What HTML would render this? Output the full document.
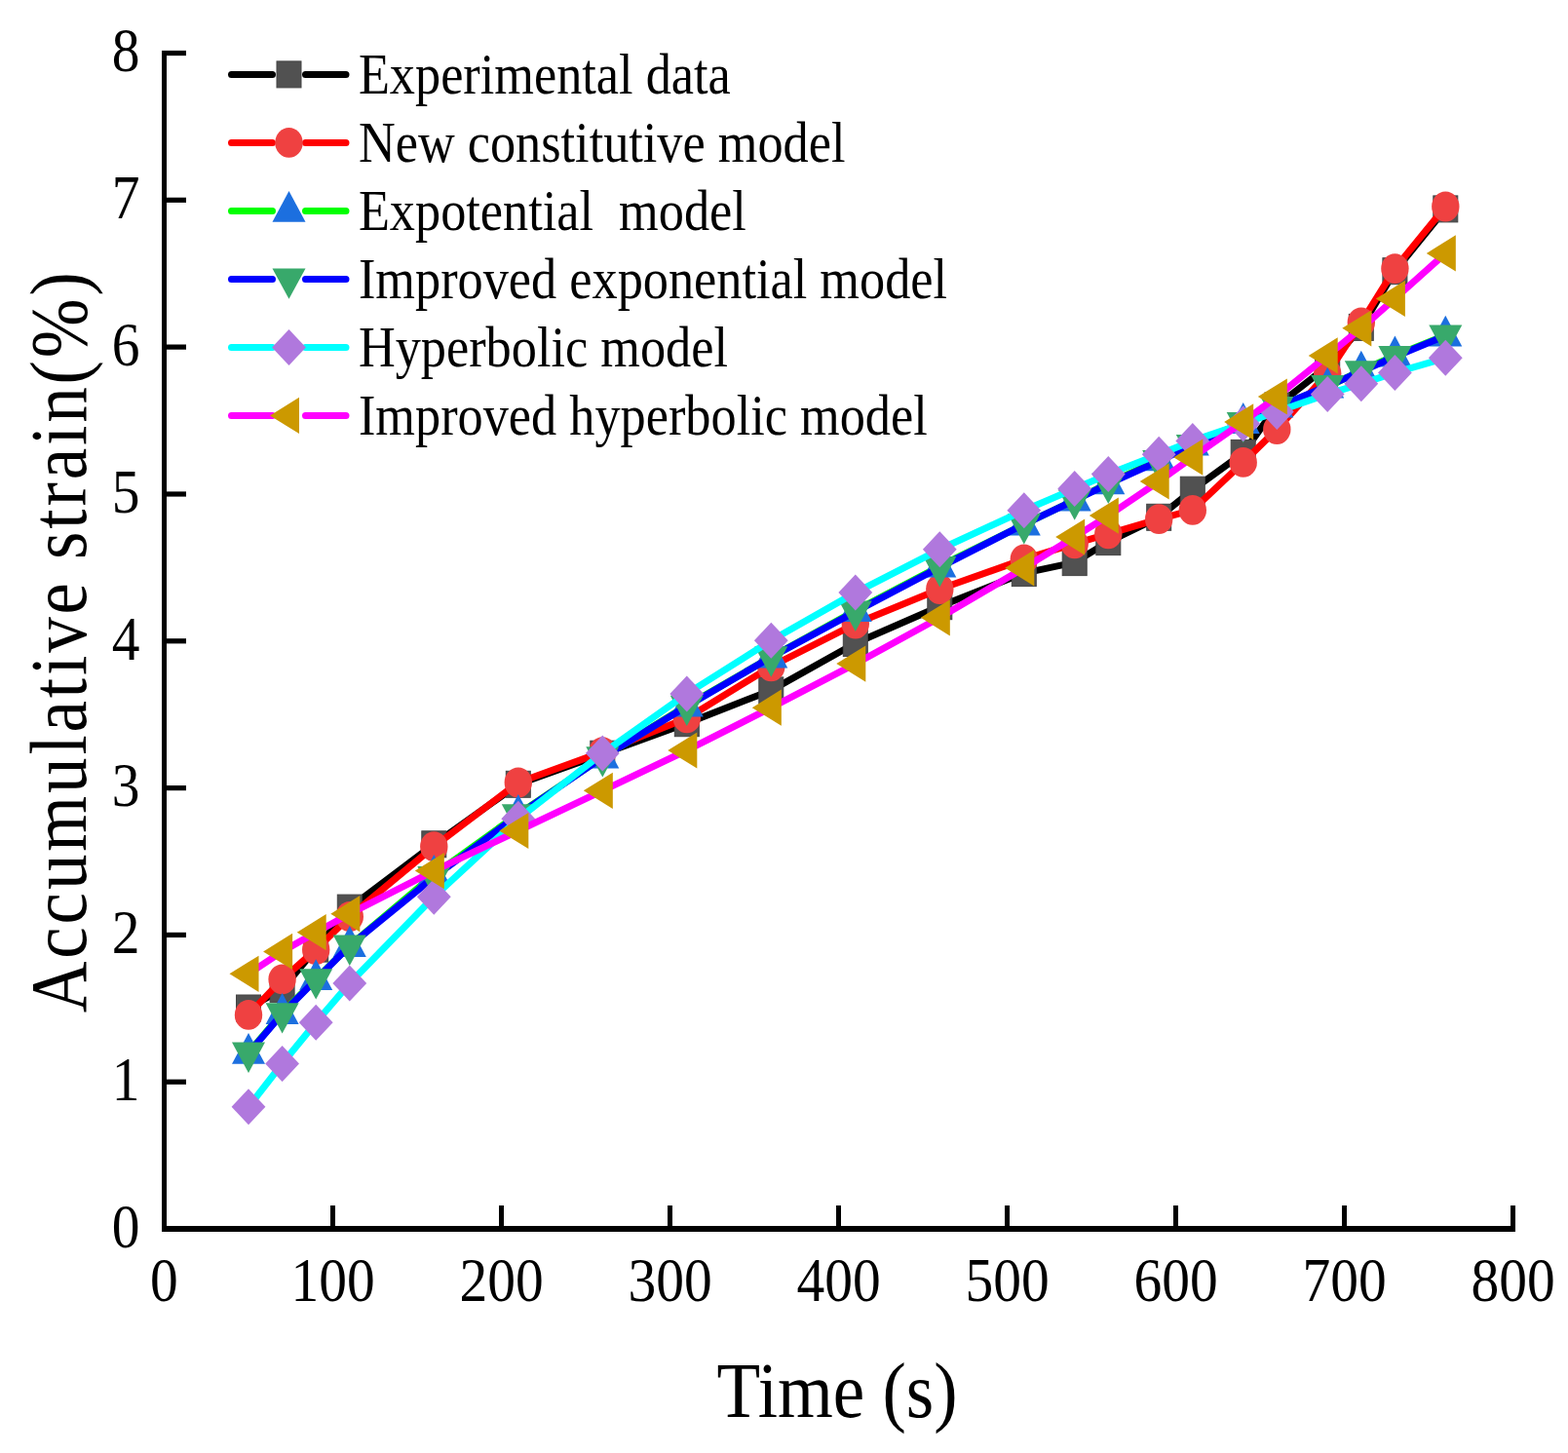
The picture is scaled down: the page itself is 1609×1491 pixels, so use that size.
<!DOCTYPE html>
<html><head><meta charset="utf-8"><title>Accumulative strain vs Time</title>
<style>
html,body{margin:0;padding:0;background:#fff;}
svg{display:block;}
text{font-family:"Liberation Serif","Times New Roman",serif;fill:#000;}
</style></head><body>
<svg width="1609" height="1491" viewBox="0 0 1609 1491">
<rect width="1609" height="1491" fill="#fff"/>

<g fill="#000">
<rect x="166" y="52" width="5" height="1212"/>
<rect x="166" y="1258" width="1389" height="6"/>
<rect x="166" y="1258.4" width="25" height="5.2"/>
<rect x="166" y="1107.6" width="25" height="5.2"/>
<rect x="166" y="956.8" width="25" height="5.2"/>
<rect x="166" y="806.0" width="25" height="5.2"/>
<rect x="166" y="655.2" width="25" height="5.2"/>
<rect x="166" y="504.4" width="25" height="5.2"/>
<rect x="166" y="353.5" width="25" height="5.2"/>
<rect x="166" y="202.7" width="25" height="5.2"/>
<rect x="166" y="51.9" width="25" height="5.2"/>
<rect x="166.0" y="1237" width="5" height="24"/>
<rect x="339.0" y="1237" width="5" height="24"/>
<rect x="512.0" y="1237" width="5" height="24"/>
<rect x="685.0" y="1237" width="5" height="24"/>
<rect x="858.0" y="1237" width="5" height="24"/>
<rect x="1031.0" y="1237" width="5" height="24"/>
<rect x="1204.0" y="1237" width="5" height="24"/>
<rect x="1377.0" y="1237" width="5" height="24"/>
<rect x="1550.0" y="1237" width="5" height="24"/>
</g>
<text transform="translate(143.5,1279.8) scale(1,1.108)" font-size="57.5" text-anchor="end">0</text>
<text transform="translate(143.5,1129.0) scale(1,1.108)" font-size="57.5" text-anchor="end">1</text>
<text transform="translate(143.5,978.2) scale(1,1.108)" font-size="57.5" text-anchor="end">2</text>
<text transform="translate(143.5,827.4) scale(1,1.108)" font-size="57.5" text-anchor="end">3</text>
<text transform="translate(143.5,676.6) scale(1,1.108)" font-size="57.5" text-anchor="end">4</text>
<text transform="translate(143.5,525.8) scale(1,1.108)" font-size="57.5" text-anchor="end">5</text>
<text transform="translate(143.5,374.9) scale(1,1.108)" font-size="57.5" text-anchor="end">6</text>
<text transform="translate(143.5,224.1) scale(1,1.108)" font-size="57.5" text-anchor="end">7</text>
<text transform="translate(143.5,73.3) scale(1,1.108)" font-size="57.5" text-anchor="end">8</text>
<text transform="translate(168.5,1335.3) scale(1,1.108)" font-size="57.5" text-anchor="middle">0</text>
<text transform="translate(341.5,1335.3) scale(1,1.108)" font-size="57.5" text-anchor="middle">100</text>
<text transform="translate(514.5,1335.3) scale(1,1.108)" font-size="57.5" text-anchor="middle">200</text>
<text transform="translate(687.5,1335.3) scale(1,1.108)" font-size="57.5" text-anchor="middle">300</text>
<text transform="translate(860.5,1335.3) scale(1,1.108)" font-size="57.5" text-anchor="middle">400</text>
<text transform="translate(1033.5,1335.3) scale(1,1.108)" font-size="57.5" text-anchor="middle">500</text>
<text transform="translate(1206.5,1335.3) scale(1,1.108)" font-size="57.5" text-anchor="middle">600</text>
<text transform="translate(1379.5,1335.3) scale(1,1.108)" font-size="57.5" text-anchor="middle">700</text>
<text transform="translate(1552.5,1335.3) scale(1,1.108)" font-size="57.5" text-anchor="middle">800</text>
<text transform="translate(735.6,1454) scale(1,1.108)" font-size="73.06">Time (s)</text>
<text transform="translate(88,1039.3) rotate(-90) scale(1,1.127)" font-size="73" letter-spacing="2.9">Accumulative strain(%)</text>
<path d="M255.0,1034.5 L289.6,1014.9 L324.2,973.6 L358.8,931.6 L445.3,866.3 L531.8,804.8 L618.3,773.7 L704.8,742.2 L791.3,708.4 L877.8,660.0 L964.3,622.2 L1050.8,588.1 L1102.7,577.1 L1137.3,556.1 L1189.2,530.8 L1223.8,502.7 L1275.7,464.9 L1310.3,416.5 L1362.2,375.7 L1396.8,335.9 L1431.4,278.2 L1483.3,214.4" fill="none" stroke="#000000" stroke-width="7" stroke-linejoin="round" stroke-linecap="round"/>
<g><rect x="242.5" y="1021.0" width="25" height="27" fill="#515151" stroke="#454545" stroke-width="1"/><rect x="277.1" y="1001.4" width="25" height="27" fill="#515151" stroke="#454545" stroke-width="1"/><rect x="311.7" y="960.1" width="25" height="27" fill="#515151" stroke="#454545" stroke-width="1"/><rect x="346.3" y="918.1" width="25" height="27" fill="#515151" stroke="#454545" stroke-width="1"/><rect x="432.8" y="852.8" width="25" height="27" fill="#515151" stroke="#454545" stroke-width="1"/><rect x="519.3" y="791.3" width="25" height="27" fill="#515151" stroke="#454545" stroke-width="1"/><rect x="605.8" y="760.2" width="25" height="27" fill="#515151" stroke="#454545" stroke-width="1"/><rect x="692.3" y="728.7" width="25" height="27" fill="#515151" stroke="#454545" stroke-width="1"/><rect x="778.8" y="694.9" width="25" height="27" fill="#515151" stroke="#454545" stroke-width="1"/><rect x="865.3" y="646.5" width="25" height="27" fill="#515151" stroke="#454545" stroke-width="1"/><rect x="951.8" y="608.7" width="25" height="27" fill="#515151" stroke="#454545" stroke-width="1"/><rect x="1038.3" y="574.6" width="25" height="27" fill="#515151" stroke="#454545" stroke-width="1"/><rect x="1090.2" y="563.6" width="25" height="27" fill="#515151" stroke="#454545" stroke-width="1"/><rect x="1124.8" y="542.6" width="25" height="27" fill="#515151" stroke="#454545" stroke-width="1"/><rect x="1176.7" y="517.3" width="25" height="27" fill="#515151" stroke="#454545" stroke-width="1"/><rect x="1211.3" y="489.2" width="25" height="27" fill="#515151" stroke="#454545" stroke-width="1"/><rect x="1263.2" y="451.4" width="25" height="27" fill="#515151" stroke="#454545" stroke-width="1"/><rect x="1297.8" y="403.0" width="25" height="27" fill="#515151" stroke="#454545" stroke-width="1"/><rect x="1349.7" y="362.2" width="25" height="27" fill="#515151" stroke="#454545" stroke-width="1"/><rect x="1384.3" y="322.4" width="25" height="27" fill="#515151" stroke="#454545" stroke-width="1"/><rect x="1418.9" y="264.7" width="25" height="27" fill="#515151" stroke="#454545" stroke-width="1"/><rect x="1470.8" y="200.9" width="25" height="27" fill="#515151" stroke="#454545" stroke-width="1"/></g>
<path d="M255.0,1041.4 L289.6,1004.9 L324.2,974.5 L358.8,940.5 L445.3,868.7 L531.8,803.0 L618.3,771.6 L704.8,736.9 L791.3,683.9 L877.8,640.1 L964.3,604.5 L1050.8,573.9 L1102.7,557.9 L1137.3,547.8 L1189.2,532.7 L1223.8,523.4 L1275.7,474.4 L1310.3,440.6 L1362.2,383.3 L1396.8,331.0 L1431.4,275.6 L1483.3,212.0" fill="none" stroke="#ff0000" stroke-width="7" stroke-linejoin="round" stroke-linecap="round"/>
<g><ellipse cx="255.0" cy="1041.4" rx="14.2" ry="15.4" fill="#ef4141"/><ellipse cx="289.6" cy="1004.9" rx="14.2" ry="15.4" fill="#ef4141"/><ellipse cx="324.2" cy="974.5" rx="14.2" ry="15.4" fill="#ef4141"/><ellipse cx="358.8" cy="940.5" rx="14.2" ry="15.4" fill="#ef4141"/><ellipse cx="445.3" cy="868.7" rx="14.2" ry="15.4" fill="#ef4141"/><ellipse cx="531.8" cy="803.0" rx="14.2" ry="15.4" fill="#ef4141"/><ellipse cx="618.3" cy="771.6" rx="14.2" ry="15.4" fill="#ef4141"/><ellipse cx="704.8" cy="736.9" rx="14.2" ry="15.4" fill="#ef4141"/><ellipse cx="791.3" cy="683.9" rx="14.2" ry="15.4" fill="#ef4141"/><ellipse cx="877.8" cy="640.1" rx="14.2" ry="15.4" fill="#ef4141"/><ellipse cx="964.3" cy="604.5" rx="14.2" ry="15.4" fill="#ef4141"/><ellipse cx="1050.8" cy="573.9" rx="14.2" ry="15.4" fill="#ef4141"/><ellipse cx="1102.7" cy="557.9" rx="14.2" ry="15.4" fill="#ef4141"/><ellipse cx="1137.3" cy="547.8" rx="14.2" ry="15.4" fill="#ef4141"/><ellipse cx="1189.2" cy="532.7" rx="14.2" ry="15.4" fill="#ef4141"/><ellipse cx="1223.8" cy="523.4" rx="14.2" ry="15.4" fill="#ef4141"/><ellipse cx="1275.7" cy="474.4" rx="14.2" ry="15.4" fill="#ef4141"/><ellipse cx="1310.3" cy="440.6" rx="14.2" ry="15.4" fill="#ef4141"/><ellipse cx="1362.2" cy="383.3" rx="14.2" ry="15.4" fill="#ef4141"/><ellipse cx="1396.8" cy="331.0" rx="14.2" ry="15.4" fill="#ef4141"/><ellipse cx="1431.4" cy="275.6" rx="14.2" ry="15.4" fill="#ef4141"/><ellipse cx="1483.3" cy="212.0" rx="14.2" ry="15.4" fill="#ef4141"/></g>
<path d="M255.0,1080.3 L289.6,1039.5 L324.2,1004.6 L358.8,970.5 L445.3,897.5 L531.8,835.3 L618.3,777.2 L704.8,724.1 L791.3,674.2 L877.8,626.5 L964.3,581.0 L1050.8,538.2 L1102.7,513.1 L1137.3,495.9 L1189.2,471.8 L1223.8,456.1 L1275.7,433.5 L1310.3,417.2 L1362.2,397.2 L1396.8,380.1 L1431.4,365.0 L1483.3,344.1" fill="none" stroke="#00ff00" stroke-width="7" stroke-linejoin="round" stroke-linecap="round"/>
<g><polygon points="255.0,1059.9 272.0,1091.7 238.0,1091.7" fill="#1c6fdf"/><polygon points="289.6,1019.1 306.6,1050.9 272.6,1050.9" fill="#1c6fdf"/><polygon points="324.2,984.2 341.2,1016.0 307.2,1016.0" fill="#1c6fdf"/><polygon points="358.8,950.1 375.8,981.9 341.8,981.9" fill="#1c6fdf"/><polygon points="445.3,877.1 462.3,908.9 428.3,908.9" fill="#1c6fdf"/><polygon points="531.8,814.9 548.8,846.7 514.8,846.7" fill="#1c6fdf"/><polygon points="618.3,756.8 635.3,788.6 601.3,788.6" fill="#1c6fdf"/><polygon points="704.8,703.7 721.8,735.5 687.8,735.5" fill="#1c6fdf"/><polygon points="791.3,653.8 808.3,685.6 774.3,685.6" fill="#1c6fdf"/><polygon points="877.8,606.1 894.8,637.9 860.8,637.9" fill="#1c6fdf"/><polygon points="964.3,560.6 981.3,592.4 947.3,592.4" fill="#1c6fdf"/><polygon points="1050.8,517.8 1067.8,549.6 1033.8,549.6" fill="#1c6fdf"/><polygon points="1102.7,492.7 1119.7,524.5 1085.7,524.5" fill="#1c6fdf"/><polygon points="1137.3,475.5 1154.3,507.3 1120.3,507.3" fill="#1c6fdf"/><polygon points="1189.2,451.4 1206.2,483.2 1172.2,483.2" fill="#1c6fdf"/><polygon points="1223.8,435.7 1240.8,467.5 1206.8,467.5" fill="#1c6fdf"/><polygon points="1275.7,413.1 1292.7,444.9 1258.7,444.9" fill="#1c6fdf"/><polygon points="1310.3,396.8 1327.3,428.6 1293.3,428.6" fill="#1c6fdf"/><polygon points="1362.2,376.8 1379.2,408.6 1345.2,408.6" fill="#1c6fdf"/><polygon points="1396.8,359.7 1413.8,391.5 1379.8,391.5" fill="#1c6fdf"/><polygon points="1431.4,344.6 1448.4,376.4 1414.4,376.4" fill="#1c6fdf"/><polygon points="1483.3,323.7 1500.3,355.5 1466.3,355.5" fill="#1c6fdf"/></g>
<path d="M255.0,1080.6 L289.6,1040.2 L324.2,1005.2 L358.8,970.5 L445.3,900.0 L531.8,836.2 L618.3,777.2 L704.8,724.7 L791.3,674.3 L877.8,627.6 L964.3,582.1 L1050.8,538.0 L1102.7,513.3 L1137.3,496.7 L1189.2,473.0 L1223.8,456.9 L1275.7,434.1 L1310.3,418.0 L1362.2,396.0 L1396.8,381.2 L1431.4,365.9 L1483.3,344.4" fill="none" stroke="#0000ff" stroke-width="7" stroke-linejoin="round" stroke-linecap="round"/>
<g><polygon points="255.0,1101.0 272.0,1069.6 238.0,1069.6" fill="#38a96b"/><polygon points="289.6,1060.6 306.6,1029.2 272.6,1029.2" fill="#38a96b"/><polygon points="324.2,1025.6 341.2,994.2 307.2,994.2" fill="#38a96b"/><polygon points="358.8,990.9 375.8,959.5 341.8,959.5" fill="#38a96b"/><polygon points="445.3,920.4 462.3,889.0 428.3,889.0" fill="#38a96b"/><polygon points="531.8,856.6 548.8,825.2 514.8,825.2" fill="#38a96b"/><polygon points="618.3,797.6 635.3,766.2 601.3,766.2" fill="#38a96b"/><polygon points="704.8,745.1 721.8,713.7 687.8,713.7" fill="#38a96b"/><polygon points="791.3,694.7 808.3,663.3 774.3,663.3" fill="#38a96b"/><polygon points="877.8,648.0 894.8,616.6 860.8,616.6" fill="#38a96b"/><polygon points="964.3,602.5 981.3,571.1 947.3,571.1" fill="#38a96b"/><polygon points="1050.8,558.4 1067.8,527.0 1033.8,527.0" fill="#38a96b"/><polygon points="1102.7,533.7 1119.7,502.3 1085.7,502.3" fill="#38a96b"/><polygon points="1137.3,517.1 1154.3,485.7 1120.3,485.7" fill="#38a96b"/><polygon points="1189.2,493.4 1206.2,462.0 1172.2,462.0" fill="#38a96b"/><polygon points="1223.8,477.3 1240.8,445.9 1206.8,445.9" fill="#38a96b"/><polygon points="1275.7,454.5 1292.7,423.1 1258.7,423.1" fill="#38a96b"/><polygon points="1310.3,438.4 1327.3,407.0 1293.3,407.0" fill="#38a96b"/><polygon points="1362.2,416.4 1379.2,385.0 1345.2,385.0" fill="#38a96b"/><polygon points="1396.8,401.6 1413.8,370.2 1379.8,370.2" fill="#38a96b"/><polygon points="1431.4,386.3 1448.4,354.9 1414.4,354.9" fill="#38a96b"/><polygon points="1483.3,364.8 1500.3,333.4 1466.3,333.4" fill="#38a96b"/></g>
<path d="M255.0,1135.8 L289.6,1091.5 L324.2,1049.3 L358.8,1009.0 L445.3,920.2 L531.8,840.2 L618.3,773.0 L704.8,711.9 L791.3,657.3 L877.8,608.1 L964.3,563.8 L1050.8,523.8 L1102.7,501.5 L1137.3,486.6 L1189.2,466.2 L1223.8,452.4 L1275.7,434.7 L1310.3,422.5 L1362.2,404.4 L1396.8,393.8 L1431.4,382.4 L1483.3,367.3" fill="none" stroke="#00ffff" stroke-width="7" stroke-linejoin="round" stroke-linecap="round"/>
<g><polygon points="255.0,1117.3 272.4,1135.8 255.0,1154.3 237.6,1135.8" fill="#b078dd"/><polygon points="289.6,1073.0 307.0,1091.5 289.6,1110.0 272.2,1091.5" fill="#b078dd"/><polygon points="324.2,1030.8 341.6,1049.3 324.2,1067.8 306.8,1049.3" fill="#b078dd"/><polygon points="358.8,990.5 376.2,1009.0 358.8,1027.5 341.4,1009.0" fill="#b078dd"/><polygon points="445.3,901.7 462.7,920.2 445.3,938.7 427.9,920.2" fill="#b078dd"/><polygon points="531.8,821.7 549.2,840.2 531.8,858.7 514.4,840.2" fill="#b078dd"/><polygon points="618.3,754.5 635.7,773.0 618.3,791.5 600.9,773.0" fill="#b078dd"/><polygon points="704.8,693.4 722.2,711.9 704.8,730.4 687.4,711.9" fill="#b078dd"/><polygon points="791.3,638.8 808.7,657.3 791.3,675.8 773.9,657.3" fill="#b078dd"/><polygon points="877.8,589.6 895.2,608.1 877.8,626.6 860.4,608.1" fill="#b078dd"/><polygon points="964.3,545.3 981.7,563.8 964.3,582.3 946.9,563.8" fill="#b078dd"/><polygon points="1050.8,505.3 1068.2,523.8 1050.8,542.3 1033.4,523.8" fill="#b078dd"/><polygon points="1102.7,483.0 1120.1,501.5 1102.7,520.0 1085.3,501.5" fill="#b078dd"/><polygon points="1137.3,468.1 1154.7,486.6 1137.3,505.1 1119.9,486.6" fill="#b078dd"/><polygon points="1189.2,447.7 1206.6,466.2 1189.2,484.7 1171.8,466.2" fill="#b078dd"/><polygon points="1223.8,433.9 1241.2,452.4 1223.8,470.9 1206.4,452.4" fill="#b078dd"/><polygon points="1275.7,416.2 1293.1,434.7 1275.7,453.2 1258.3,434.7" fill="#b078dd"/><polygon points="1310.3,404.0 1327.7,422.5 1310.3,441.0 1292.9,422.5" fill="#b078dd"/><polygon points="1362.2,385.9 1379.6,404.4 1362.2,422.9 1344.8,404.4" fill="#b078dd"/><polygon points="1396.8,375.3 1414.2,393.8 1396.8,412.3 1379.4,393.8" fill="#b078dd"/><polygon points="1431.4,363.9 1448.8,382.4 1431.4,400.9 1414.0,382.4" fill="#b078dd"/><polygon points="1483.3,348.8 1500.7,367.3 1483.3,385.8 1465.9,367.3" fill="#b078dd"/></g>
<path d="M255.0,999.3 L289.6,976.4 L324.2,956.7 L358.8,937.7 L445.3,893.6 L531.8,852.5 L618.3,811.3 L704.8,770.0 L791.3,726.2 L877.8,681.1 L964.3,633.8 L1050.8,582.8 L1102.7,551.1 L1137.3,529.1 L1189.2,494.0 L1223.8,469.2 L1275.7,432.9 L1310.3,407.0 L1362.2,364.9 L1396.8,336.8 L1431.4,306.4 L1483.3,259.9" fill="none" stroke="#ff00ff" stroke-width="7" stroke-linejoin="round" stroke-linecap="round"/>
<g><polygon points="235.5,999.3 265.5,980.7 265.5,1017.9" fill="#cc9900"/><polygon points="270.1,976.4 300.1,957.8 300.1,995.0" fill="#cc9900"/><polygon points="304.7,956.7 334.7,938.1 334.7,975.3" fill="#cc9900"/><polygon points="339.3,937.7 369.3,919.1 369.3,956.3" fill="#cc9900"/><polygon points="425.8,893.6 455.8,875.0 455.8,912.2" fill="#cc9900"/><polygon points="512.3,852.5 542.3,833.9 542.3,871.1" fill="#cc9900"/><polygon points="598.8,811.3 628.8,792.7 628.8,829.9" fill="#cc9900"/><polygon points="685.3,770.0 715.3,751.4 715.3,788.6" fill="#cc9900"/><polygon points="771.8,726.2 801.8,707.6 801.8,744.8" fill="#cc9900"/><polygon points="858.3,681.1 888.3,662.5 888.3,699.7" fill="#cc9900"/><polygon points="944.8,633.8 974.8,615.2 974.8,652.4" fill="#cc9900"/><polygon points="1031.3,582.8 1061.3,564.2 1061.3,601.4" fill="#cc9900"/><polygon points="1083.2,551.1 1113.2,532.5 1113.2,569.7" fill="#cc9900"/><polygon points="1117.8,529.1 1147.8,510.5 1147.8,547.7" fill="#cc9900"/><polygon points="1169.7,494.0 1199.7,475.4 1199.7,512.6" fill="#cc9900"/><polygon points="1204.3,469.2 1234.3,450.6 1234.3,487.8" fill="#cc9900"/><polygon points="1256.2,432.9 1286.2,414.3 1286.2,451.5" fill="#cc9900"/><polygon points="1290.8,407.0 1320.8,388.4 1320.8,425.6" fill="#cc9900"/><polygon points="1342.7,364.9 1372.7,346.3 1372.7,383.5" fill="#cc9900"/><polygon points="1377.3,336.8 1407.3,318.2 1407.3,355.4" fill="#cc9900"/><polygon points="1411.9,306.4 1441.9,287.8 1441.9,325.0" fill="#cc9900"/><polygon points="1463.8,259.9 1493.8,241.3 1493.8,278.5" fill="#cc9900"/></g>
<path d="M237.5,76.4 L279.5,76.4 M313.5,76.4 L355,76.4" stroke="#000000" stroke-width="7" stroke-linecap="round"/>
<rect x="284.0" y="62.9" width="25" height="27" fill="#515151" stroke="#454545" stroke-width="1"/>
<text transform="translate(367.9,96.0) scale(1,1.113)" font-size="52.3">Experimental data</text>
<path d="M237.5,146.4 L279.5,146.4 M313.5,146.4 L355,146.4" stroke="#ff0000" stroke-width="7" stroke-linecap="round"/>
<ellipse cx="296.5" cy="146.4" rx="14.2" ry="15.4" fill="#ef4141"/>
<text transform="translate(367.9,166.0) scale(1,1.113)" font-size="52.3">New constitutive model</text>
<path d="M237.5,216.4 L279.5,216.4 M313.5,216.4 L355,216.4" stroke="#00ff00" stroke-width="7" stroke-linecap="round"/>
<polygon points="296.5,196.0 313.5,227.8 279.5,227.8" fill="#1c6fdf"/>
<text transform="translate(367.9,236.0) scale(1,1.113)" font-size="52.3">Expotential&#160; model</text>
<path d="M237.5,286.4 L279.5,286.4 M313.5,286.4 L355,286.4" stroke="#0000ff" stroke-width="7" stroke-linecap="round"/>
<polygon points="296.5,306.8 313.5,275.4 279.5,275.4" fill="#38a96b"/>
<text transform="translate(367.9,306.0) scale(1,1.113)" font-size="52.3">Improved exponential model</text>
<path d="M237.5,356.4 L279.5,356.4 M313.5,356.4 L355,356.4" stroke="#00ffff" stroke-width="7" stroke-linecap="round"/>
<polygon points="296.5,337.9 313.9,356.4 296.5,374.9 279.1,356.4" fill="#b078dd"/>
<text transform="translate(367.9,376.0) scale(1,1.113)" font-size="52.3">Hyperbolic model</text>
<path d="M237.5,426.4 L279.5,426.4 M313.5,426.4 L355,426.4" stroke="#ff00ff" stroke-width="7" stroke-linecap="round"/>
<polygon points="277.0,426.4 307.0,407.8 307.0,445.0" fill="#cc9900"/>
<text transform="translate(367.9,446.0) scale(1,1.113)" font-size="52.3">Improved hyperbolic model</text>
</svg></body></html>
